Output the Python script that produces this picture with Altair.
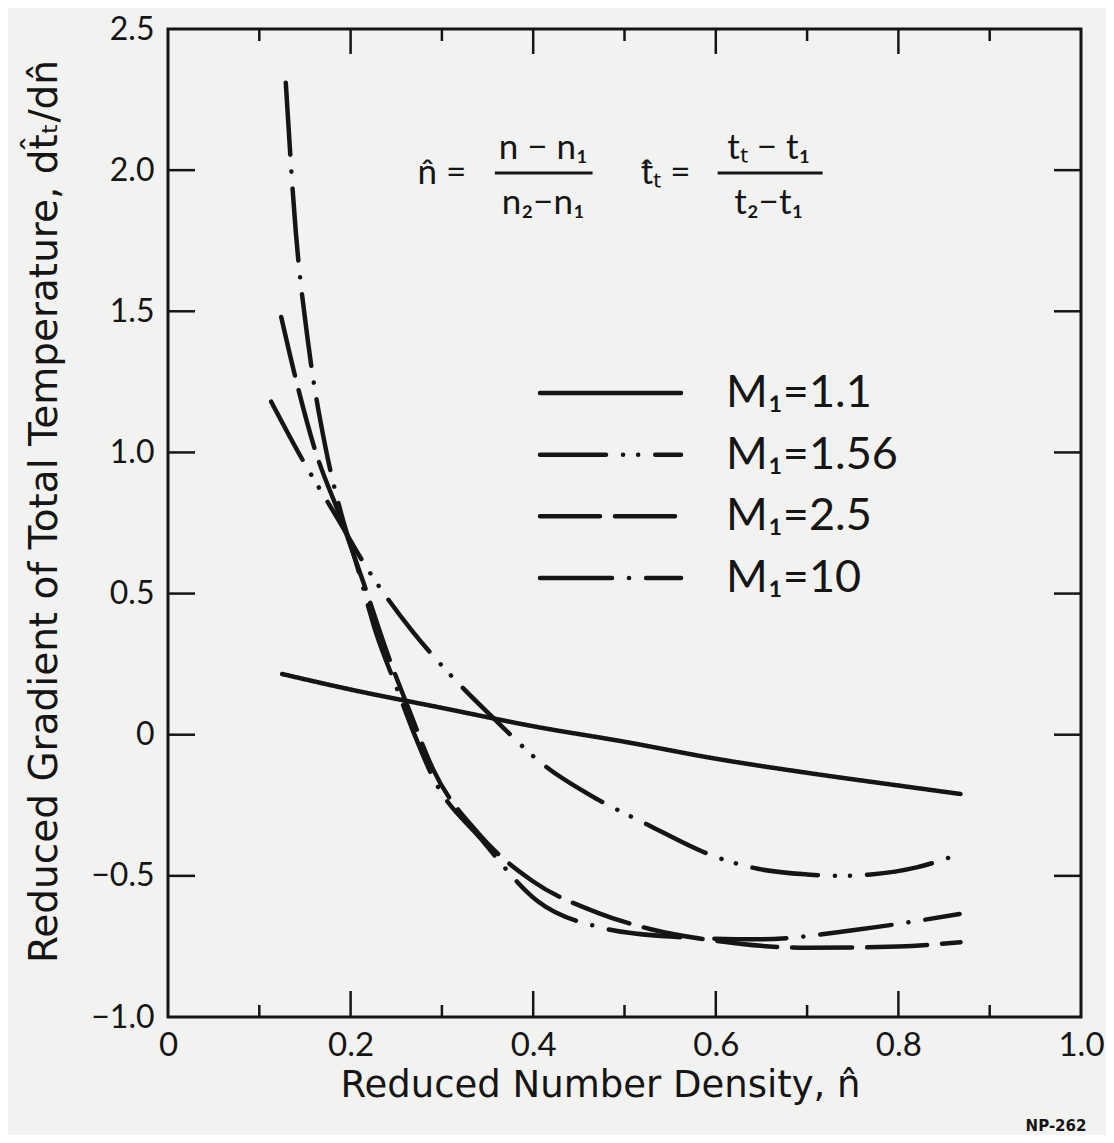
import altair as alt
import pandas as pd

# ---------------- data ----------------
series = ["M₁=1.1", "M₁=1.56", "M₁=2.5", "M₁=10"]

n_11 = [0.125, 0.2, 0.3, 0.4, 0.5, 0.6, 0.7, 0.8, 0.868]
g_11 = [0.215, 0.16, 0.095, 0.03, -0.025, -0.085, -0.135, -0.18, -0.21]

n_156 = [0.113, 0.148, 0.186, 0.217, 0.268, 0.307, 0.364, 0.405, 0.471, 0.520,
         0.602, 0.646, 0.700, 0.737, 0.770, 0.820, 0.869]
g_156 = [1.18, 0.97, 0.765, 0.595, 0.365, 0.22, 0.035, -0.09, -0.23, -0.31,
         -0.435, -0.475, -0.495, -0.50, -0.495, -0.47, -0.42]

n_25 = [0.124, 0.14, 0.16, 0.19, 0.215, 0.24, 0.265, 0.29, 0.34, 0.40, 0.47,
        0.53, 0.60, 0.70, 0.80, 0.868]
g_25 = [1.48, 1.26, 1.02, 0.76, 0.53, 0.29, 0.08, -0.12, -0.35, -0.52, -0.63,
        -0.69, -0.73, -0.755, -0.75, -0.735]

n_10 = [0.129, 0.14, 0.153, 0.173, 0.19, 0.206, 0.228, 0.25, 0.27, 0.29, 0.343,
        0.405, 0.47, 0.55, 0.646, 0.756, 0.867]
g_10 = [2.31, 1.78, 1.40, 1.01, 0.78, 0.61, 0.36, 0.17, 0.0, -0.15, -0.37,
        -0.59, -0.68, -0.715, -0.725, -0.69, -0.635]

x_ticks = [0, 0.2, 0.4, 0.6, 0.8, 1.0]
x_minor = [0.1, 0.3, 0.5, 0.7, 0.9]
y_ticks = [-1.0, -0.5, 0, 0.5, 1.0, 1.5, 2.0, 2.5]
y_inner = [-0.5, 0, 0.5, 1.0, 1.5, 2.0]

# formula annotation (text, data position)
ann_text = ["n̂ =", "n − n₁", "n₂−n₁", "t̂ₜ =", "tₜ − t₁", "t₂−t₁"]
ann_x = [0.300, 0.411, 0.411, 0.545, 0.658, 0.658]
ann_y = [1.99, 2.08, 1.885, 1.99, 2.08, 1.885]
bar_x = [0.358, 0.602]
bar_x2 = [0.465, 0.717]
bar_y = [1.99, 1.99]

# ---------------- tables ----------------
rows = []
for name, ns, gs in zip(series, [n_11, n_156, n_25, n_10], [g_11, g_156, g_25, g_10]):
    for n, g in zip(ns, gs):
        rows.append({"series": name, "n": n, "g": g})
curves_df = pd.DataFrame(rows)

INK = "#151515"
PAPER = "#f2f2f0"
W, H = 913, 988

dash_scale = alt.Scale(
    domain=series,
    range=[[1, 0], [66, 17, 0.1, 15, 0.1, 17], [60, 15], [72, 17, 0.1, 17]],
)

x_scale = alt.Scale(domain=[0, 1], nice=False, zero=False)
y_scale = alt.Scale(domain=[-1, 2.5], nice=False, zero=False)

X_TITLE = "Reduced Number Density, n̂"
Y_TITLE = "Reduced Gradient of Total Temperature, dt̂ₜ/dn̂"

x_axis = alt.Axis(
    values=x_ticks, labelExpr="datum.value == 0 ? '0' : format(datum.value, '.1f')",
    domain=False, ticks=False, grid=False, labelFont="Lato", labelFontSize=33,
    labelColor=INK, labelPadding=12, labelFlush=False,
    title=X_TITLE, titleFont="DejaVu Sans", titleFontSize=37,
    titleFontWeight="normal", titleColor=INK, titleX=432, titleY=68,
    titleBaseline="middle", titleAlign="center",
)
y_axis = alt.Axis(
    values=y_ticks, labelExpr="datum.value == 0 ? '0' : format(datum.value, '.1f')",
    domain=False, ticks=False, grid=False, labelFont="Lato", labelFontSize=32,
    labelColor=INK, labelPadding=14, labelFlush=False,
    title=Y_TITLE,
    titleFont="DejaVu Sans", titleFontSize=39, titleFontWeight="normal", titleColor=INK,
    titleX=-124, titleY=482, titleAngle=270, titleBaseline="middle", titleAlign="center",
)

X = alt.X("n:Q", scale=x_scale, axis=x_axis, title=X_TITLE)
Y = alt.Y("g:Q", scale=y_scale, axis=y_axis, title=Y_TITLE)

curves = alt.Chart(curves_df).mark_line(
    color=INK, strokeWidth=4.5, strokeCap="round", interpolate="monotone"
).encode(
    x=X, y=Y,
    strokeDash=alt.StrokeDash("series:N", scale=dash_scale, legend=None),
    detail="series:N",
    order="n:Q",
)

# inward tick marks on all four sides
ydf = pd.DataFrame({"g": y_inner})
left_ticks = alt.Chart(ydf).mark_rule(color=INK, strokeWidth=2.5).encode(
    y=Y, x=alt.value(0), x2=alt.value(27))
right_ticks = alt.Chart(ydf).mark_rule(color=INK, strokeWidth=2.5).encode(
    y=Y, x=alt.value(W - 27), x2=alt.value(W))
xmaj = pd.DataFrame({"n": x_ticks[1:-1]})
xmin = pd.DataFrame({"n": x_minor})
bot_major = alt.Chart(xmaj).mark_rule(color=INK, strokeWidth=2.5).encode(
    x=X, y=alt.value(H - 26), y2=alt.value(H))
bot_minor = alt.Chart(xmin).mark_rule(color=INK, strokeWidth=2.5).encode(
    x=X, y=alt.value(H - 12), y2=alt.value(H))
top_major = alt.Chart(xmaj).mark_rule(color=INK, strokeWidth=2.5).encode(
    x=X, y=alt.value(0), y2=alt.value(25))
top_minor = alt.Chart(xmin).mark_rule(color=INK, strokeWidth=2.5).encode(
    x=X, y=alt.value(0), y2=alt.value(12))

ann_df = pd.DataFrame({"t": ann_text, "n": ann_x, "g": ann_y})
ann = alt.Chart(ann_df).mark_text(
    font="Lato", fontSize=35, color=INK, align="center", baseline="middle"
).encode(x=X, y=Y, text="t:N")
bar_df = pd.DataFrame({"n": bar_x, "n2": bar_x2, "g": bar_y})
bars = alt.Chart(bar_df).mark_rule(color=INK, strokeWidth=3).encode(
    x=X, x2="n2:Q", y=Y,
)

np_df = pd.DataFrame({"t": ["NP-262"]})
np_text = alt.Chart(np_df).mark_text(
    font="DejaVu Sans", fontSize=15, fontWeight="bold", color=INK, align="center",
    baseline="middle"
).encode(text="t:N", x=alt.value(888), y=alt.value(1097))

main = alt.layer(curves, left_ticks, right_ticks, bot_major, bot_minor,
                 top_major, top_minor, ann, bars, np_text)

# legend drawn inside the plot
leg_df = pd.DataFrame({"series": series})
leg_y = alt.Y("series:N", scale=alt.Scale(type="point", domain=series,
                                          range=[364, 549], padding=0), axis=None)
leg_rules = alt.Chart(leg_df).mark_rule(color=INK, strokeWidth=4.5, strokeCap="round").encode(
    y=leg_y, x=alt.value(372), x2=alt.value(513),
    strokeDash=alt.StrokeDash("series:N", scale=dash_scale, legend=None),
)
leg_text = alt.Chart(leg_df).mark_text(
    font="Lato", fontSize=45, color=INK, align="left", baseline="middle"
).encode(y=leg_y, x=alt.value(558), text="series:N")
legend = alt.layer(leg_rules, leg_text)

chart = alt.layer(main, legend).resolve_scale(y="independent").properties(
    width=W, height=H,
    autosize=alt.AutoSizeParams(type="none"),
    padding={"left": 160, "top": 21, "right": 25, "bottom": 118},
    background=PAPER,
).configure_view(stroke=INK, strokeWidth=3, fill=PAPER)

chart.save("out.html", embed_options={"renderer": "svg", "actions": False})
